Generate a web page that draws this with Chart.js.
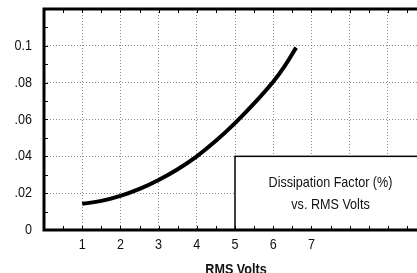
<!DOCTYPE html>
<html>
<head>
<meta charset="utf-8">
<script src="https://cdn.jsdelivr.net/npm/chart.js@4"></script>
<style>
  html, body { margin: 0; padding: 0; background: #fff; }
  #wrap { width: 417px; height: 273px; overflow: hidden; position: relative; }
  #box { width: 440px; height: 290px; }
</style>
</head>
<body>
<div id="wrap"><div id="box"><canvas id="dfChart"></canvas></div></div>
<script>
// valeurs
const rmsVolts = [1, 1.5, 2, 2.5, 3, 3.5, 4, 4.5, 5, 5.5, 6, 6.3, 6.6];
const dissipation = [0.0142, 0.0158, 0.0185, 0.0223, 0.0272, 0.033, 0.040, 0.0484, 0.058, 0.0687, 0.0805, 0.089, 0.099];
const xTickLabels = ['', '1', '2', '3', '4', '5', '6', '7', '', '', ''];
const yTickLabels = ['0', '.02', '.04', '.06', '.08', '0.1', ''];
const noteLines = ['Dissipation Factor (%)', 'vs. RMS Volts'];
const xTitle = 'RMS Volts';

const FONT = '"Liberation Sans", Arial, sans-serif';
const SQUEEZE = 0.84; // police étroite simulée

function narrowText(ctx, text, x, y, align, font) {
  ctx.save();
  ctx.font = font;
  ctx.textAlign = align;
  ctx.textBaseline = 'middle';
  ctx.fillStyle = '#111';
  ctx.translate(x, y);
  ctx.scale(SQUEEZE, 1);
  ctx.fillText(text, 0, 0);
  ctx.restore();
}

// cadre, petites graduations, étiquettes et encadré
const framePlugin = {
  id: 'frame',
  afterDatasetsDraw(chart) {
    const { ctx, chartArea: a, scales: { x, y } } = chart;
    ctx.save();

    // encadré
    const bx = x.getPixelForValue(5), by = y.getPixelForValue(0.04);
    const bx2 = x.getPixelForValue(10), by2 = y.getPixelForValue(0);
    ctx.fillStyle = '#fff';
    ctx.fillRect(bx, by, bx2 - bx, by2 - by);
    ctx.strokeStyle = '#000';
    ctx.lineWidth = 1.5;
    ctx.strokeRect(bx, by, bx2 - bx, by2 - by);
    const cx = (bx + bx2) / 2, cy = (by + by2) / 2;
    narrowText(ctx, noteLines[0], cx, cy - 10, 'center', '15px ' + FONT);
    narrowText(ctx, noteLines[1], cx, cy + 12, 'center', '15px ' + FONT);

    // petites graduations
    ctx.lineWidth = 1;
    ctx.strokeStyle = '#000';
    ctx.beginPath();
    for (let v = 0.5; v < 10; v += 0.5) {
      const px = Math.round(x.getPixelForValue(v)) + 0.5;
      ctx.moveTo(px, a.bottom); ctx.lineTo(px, a.bottom - 4);
      ctx.moveTo(px, a.top); ctx.lineTo(px, a.top + 4);
    }
    for (let v = 0.01; v < 0.12; v += 0.01) {
      const py = Math.round(y.getPixelForValue(v)) + 0.5;
      ctx.moveTo(a.left, py); ctx.lineTo(a.left + 4, py);
    }
    ctx.stroke();

    // cadre épais
    ctx.lineWidth = 3;
    ctx.lineCap = 'square';
    ctx.beginPath();
    ctx.moveTo(a.right + 2, a.top);
    ctx.lineTo(a.left, a.top);
    ctx.lineTo(a.left, a.bottom);
    ctx.lineTo(a.right + 2, a.bottom);
    ctx.stroke();
    ctx.restore();

    // étiquettes des axes
    x.ticks.forEach(t => {
      const lbl = xTickLabels[Math.round(t.value)] || '';
      if (lbl) narrowText(ctx, lbl, x.getPixelForValue(t.value), a.bottom + 15, 'center', '15px ' + FONT);
    });
    y.ticks.forEach(t => {
      const lbl = yTickLabels[Math.round(t.value / 0.02)] || '';
      if (lbl) narrowText(ctx, lbl, a.left - 12, y.getPixelForValue(t.value), 'right', '15px ' + FONT);
    });
    narrowText(ctx, xTitle, (a.left + a.right) / 2 + 1, a.bottom + 40, 'center', 'bold 15px ' + FONT);
  }
};

const ctx = document.getElementById('dfChart').getContext('2d');
window.dfChart = new Chart(ctx, {
  type: 'scatter',
  data: {
    datasets: [{
      data: rmsVolts.map((v, i) => ({ x: v, y: dissipation[i] })),
      showLine: true,
      borderColor: '#000',
      borderWidth: 4,
      pointRadius: 0,
      tension: 0.4,
      borderCapStyle: 'butt'
    }]
  },
  options: {
    responsive: true,
    maintainAspectRatio: false,
    animation: false,
    events: [],
    layout: { padding: { top: 9, right: 14, bottom: 0, left: 0 } },
    plugins: { legend: { display: false }, tooltip: { enabled: false } },
    scales: {
      x: {
        type: 'linear', min: 0, max: 10,
        afterFit(s) { s.height = 60; },
        border: { display: false, dash: [1, 2] },
        grid: { color: '#8c8c8c', lineWidth: 1, drawTicks: false },
        ticks: { stepSize: 1, display: false }
      },
      y: {
        type: 'linear', min: 0, max: 0.12,
        afterFit(s) { s.width = 44; },
        border: { display: false, dash: [1, 2] },
        grid: { color: '#8c8c8c', lineWidth: 1, drawTicks: false },
        ticks: { stepSize: 0.02, display: false }
      }
    }
  },
  plugins: [framePlugin]
});
</script>
</body>
</html>
